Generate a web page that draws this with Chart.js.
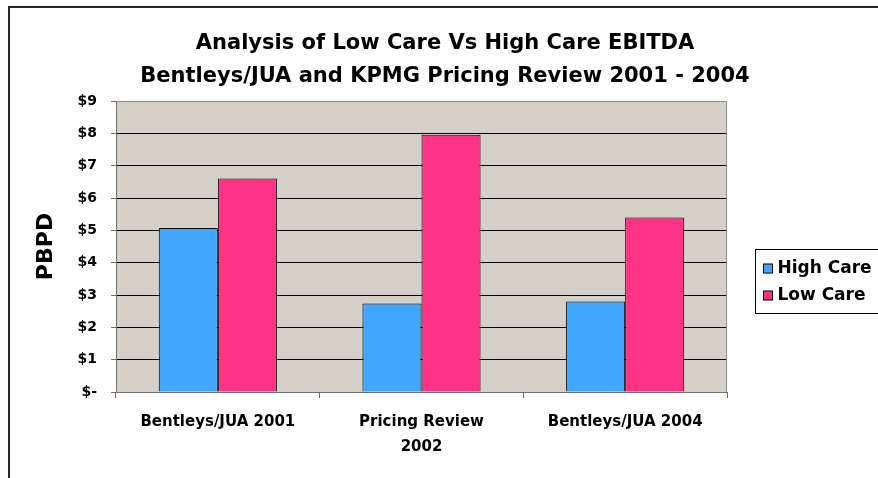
<!DOCTYPE html>
<html>
<head>
<meta charset="utf-8">
<script src="https://cdn.jsdelivr.net/npm/chart.js@4.4.1/dist/chart.umd.min.js"></script>
<style>
  html, body { margin: 0; padding: 0; background: #fff; }
  #wrap { width: 878px; height: 478px; }
</style>
</head>
<body>
<div id="wrap"><canvas id="ebitdaChart" width="878" height="478"></canvas></div>
<script>
// Chart values (PBPD, $)
const categories = ['Bentleys/JUA 2001', ['Pricing Review', '2002'], 'Bentleys/JUA 2004'];
const highCare = [5.07, 2.74, 2.80];
const lowCare = [6.60, 7.96, 5.40];
const seriesNames = ['High Care', 'Low Care'];
const seriesColors = ['#42a5ff', '#ff3385'];
const yTickLabels = ['$-', '$1', '$2', '$3', '$4', '$5', '$6', '$7', '$8', '$9'];
const titleLines = ['Analysis of Low Care Vs High Care EBITDA', 'Bentleys/JUA and KPMG Pricing Review 2001 - 2004'];

const FONT = '"DejaVu Sans", "Liberation Sans", sans-serif';

// grey plot area + its frame
const plotBackground = {
    id: 'plotBackground',
    beforeDraw(chart) {
        const { ctx, chartArea: a } = chart;
        ctx.save();
        ctx.fillStyle = '#d4d0c8';
        ctx.fillRect(a.left, a.top, a.right - a.left, a.bottom - a.top);
        ctx.restore();
    },
    afterDatasetsDraw(chart) {
        const { ctx, chartArea: a } = chart;
        ctx.save();
        ctx.strokeStyle = '#8c8c8c';
        ctx.lineWidth = 1;
        ctx.beginPath();
        ctx.moveTo(a.right - 0.5, a.top);
        ctx.lineTo(a.right - 0.5, a.bottom);
        ctx.stroke();
        ctx.restore();
    }
};

// Excel style legend box to the right of the plot, plus the outer chart frame
const boxedLegend = {
    id: 'boxedLegend',
    afterDraw(chart) {
        const { ctx, chartArea: a } = chart;
        const left = Math.round(a.right) + 28.5;
        const top = 249.5;
        ctx.save();
        ctx.strokeStyle = '#000';
        ctx.lineWidth = 1;
        ctx.strokeRect(left, top, 160, 64);

        ctx.font = 'bold 17px ' + FONT;
        ctx.textBaseline = 'middle';
        ctx.textAlign = 'left';
        chart.data.datasets.forEach((ds, i) => {
            const cy = top + 19 + i * 27;
            ctx.fillStyle = ds.backgroundColor;
            ctx.fillRect(left + 8, cy - 4.5, 9, 9);
            ctx.strokeStyle = '#000';
            ctx.strokeRect(left + 8, cy - 4.5, 9, 9);
            ctx.fillStyle = '#000';
            ctx.fillText(ds.label, left + 22, cy);
        });

        // outer frame
        ctx.strokeStyle = '#2a2a2a';
        ctx.lineWidth = 2;
        ctx.beginPath();
        ctx.moveTo(9, chart.height);
        ctx.lineTo(9, 7);
        ctx.lineTo(chart.width, 7);
        ctx.stroke();
        ctx.restore();
    }
};

const ctx = document.getElementById('ebitdaChart').getContext('2d');
const chart = new Chart(ctx, {
    type: 'bar',
    data: {
        labels: categories,
        datasets: [
            {
                label: seriesNames[0],
                data: highCare,
                backgroundColor: seriesColors[0],
                borderColor: '#000',
                borderWidth: 1
            },
            {
                label: seriesNames[1],
                data: lowCare,
                backgroundColor: seriesColors[1],
                borderColor: '#000',
                borderWidth: 1
            }
        ]
    },
    options: {
        responsive: false,
        animation: false,
        devicePixelRatio: 1,
        categoryPercentage: 0.58,
        barPercentage: 1.0,
        layout: { padding: { left: 12, right: 0, top: 0, bottom: 0 } },
        plugins: {
            legend: { display: false },
            tooltip: { enabled: false },
            title: {
                display: true,
                text: titleLines,
                color: '#000',
                font: { family: FONT, size: 21, weight: 'bold', lineHeight: 33 / 21 },
                padding: { top: 27, bottom: 8 }
            }
        },
        scales: {
            x: {
                grid: {
                    display: true,
                    drawOnChartArea: false,
                    offset: true,
                    tickLength: 6,
                    color: '#707070'
                },
                border: { display: true, color: '#707070', width: 1 },
                ticks: {
                    color: '#000',
                    padding: 11,
                    maxRotation: 0,
                    autoSkip: false,
                    font: { family: FONT, size: 15, weight: 'bold', lineHeight: 1.7 }
                },
                afterFit: (scale) => { scale.height = 86; }
            },
            y: {
                min: 0,
                max: 9,
                grid: {
                    tickLength: 5,
                    color: (c) => {
                        if (c.tick && c.tick.value === 9) return '#8c8c8c';
                        if (c.tick && c.tick.value === 0) return '#707070';
                        return '#000';
                    },
                    tickColor: '#707070'
                },
                border: { display: true, color: '#707070', width: 1 },
                ticks: {
                    stepSize: 1,
                    color: '#000',
                    padding: 14,
                    font: { family: FONT, size: 14, weight: 'bold' },
                    callback: (value) => yTickLabels[value]
                },
                title: {
                    display: true,
                    text: 'PBPD',
                    color: '#000',
                    font: { family: FONT, size: 22, weight: 'bold' },
                    padding: { top: 21, bottom: 0 }
                },
                afterFit: (scale) => { scale.width = 104; }
            },
            // empty right-hand axis that only reserves room for the legend box
            spacer: {
                type: 'linear',
                axis: 'y',
                position: 'right',
                display: true,
                grid: { display: false },
                border: { display: false },
                ticks: { display: false },
                afterFit: (scale) => { scale.width = 151; }
            }
        }
    },
    plugins: [plotBackground, boxedLegend]
});
</script>
</body>
</html>
